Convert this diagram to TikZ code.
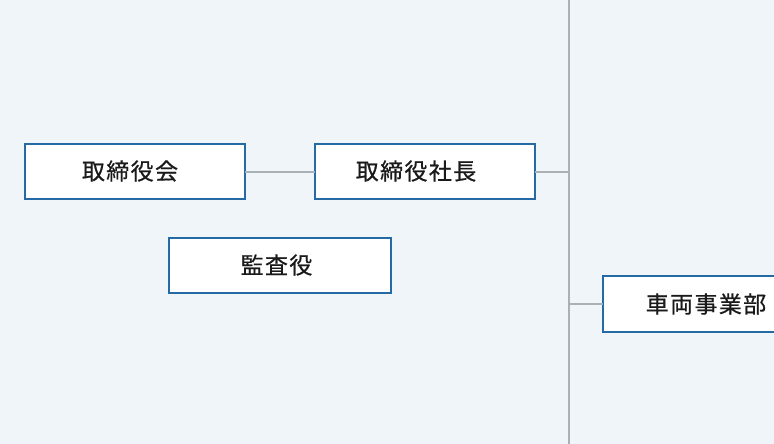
\documentclass[tikz,border=0pt]{standalone}
\usepackage{fontspec}
\newfontfamily\jp[LetterSpace=6,FakeBold=0.6]{Noto Sans CJK JP}
\definecolor{bg}{HTML}{EFF5F9}
\definecolor{bx}{HTML}{2569A5}
\definecolor{ln}{HTML}{A9B0B6}
\definecolor{tx}{HTML}{1A1A1A}
\begin{document}
\begin{tikzpicture}[x=1pt,y=-1pt,
  box/.style={draw=bx,line width=2pt,fill=white,inner sep=0pt,outer sep=0pt,minimum height=55pt},
  txt/.style={inner sep=0pt,text=tx,font=\jp\fontsize{23}{26}\selectfont},
  conn/.style={draw=ln,line width=2pt}]
\path[use as bounding box] (0,0) rectangle (774,444);
\clip (0,0) rectangle (774,444);
\fill[bg] (0,0) rectangle (774,444);
\coordinate (vt) at (569,0);
\coordinate (vb) at (569,444);
\draw[conn] (vt) -- (vb);
\node[box,minimum width=220pt] (a) at (135,171.5) {};
\node[box,minimum width=220pt] (b) at (425,171.5) {};
\node[box,minimum width=222pt] (c) at (280,265.5) {};
\node[box,minimum width=240pt,minimum height=56pt] (d) at (723,304) {};
\node[txt] (ta) at (130,171) {取締役会};
\node[txt] (tb) at (416,171) {取締役社長};
\node[txt] (tc) at (276.5,265) {監査役};
\node[txt] (td) at (706,304) {車両事業部};
\coordinate (j1) at (569,172);
\coordinate (j2) at (569,304);
\draw[conn] (a.east |- j1) -- (b.west |- j1);
\draw[conn] (b.east |- j1) -- (j1);
\draw[conn] (j2) -- (d.west);
\end{tikzpicture}
\end{document}
